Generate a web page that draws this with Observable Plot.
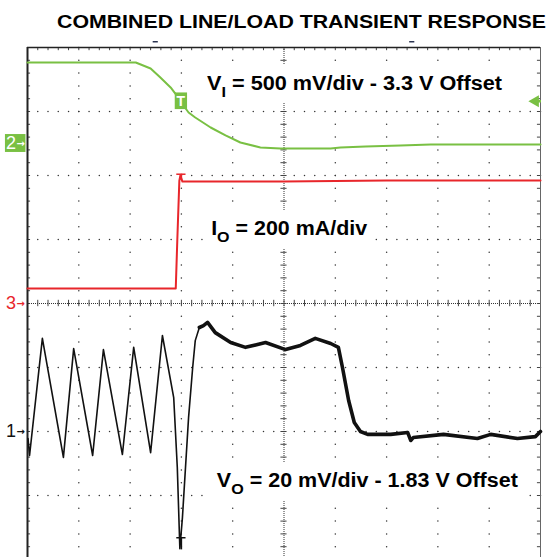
<!DOCTYPE html>
<html><head><meta charset="utf-8">
<script src="https://cdn.jsdelivr.net/npm/d3@7"></script>
<script src="https://cdn.jsdelivr.net/npm/@observablehq/plot@0.6"></script>
<style>
html,body{margin:0;padding:0;background:#fff;}
#chart svg{display:block;}
</style></head><body><div id="chart"></div>
<script>
// ---------- data (time in scope divisions) ----------
const title = "COMBINED LINE/LOAD TRANSIENT RESPONSE";

// Channel 2: input voltage VI (V)
const viTime  = [0, 2.11, 2.40, 2.59, 2.79, 2.94, 3.04, 3.14, 3.27, 3.57, 3.86, 4.15, 4.54, 4.93, 5.32, 5.91, 6.10, 6.59, 7.27, 7.86, 10];
const viVolts = [3.933, 3.933, 3.886, 3.816, 3.738, 3.659, 3.597, 3.542, 3.503, 3.425, 3.363, 3.308, 3.269, 3.261, 3.261, 3.261, 3.269, 3.277, 3.284, 3.292, 3.292];

// Channel 3: output current IO (mA)
const ioTime      = [0, 2.89, 2.92, 2.96, 2.98, 3.02, 5.0, 7.0, 10];
const ioMilliamps = [47, 47, 197, 384, 400, 381, 381, 384, 384];

// Channel 1: output voltage VO (V)
const voTime  = [0.01, 0.04, 0.29, 0.70, 0.90, 1.27, 1.48, 1.85, 2.07, 2.40, 2.63, 2.85, 2.92, 2.97, 3.02, 3.08, 3.14, 3.22, 3.27, 3.35, 3.43, 3.51, 3.66, 3.96, 4.25, 4.64, 5.03, 5.32, 5.61, 5.91, 6.06, 6.14, 6.26, 6.37, 6.49, 6.63, 7.08, 7.41, 7.47, 7.52, 8.11, 8.77, 9.03, 9.55, 9.90, 10.0];
const voVolts = [1.8278, 1.8225, 1.8591, 1.8219, 1.8559, 1.8225, 1.8556, 1.8228, 1.8563, 1.8234, 1.8600, 1.8406, 1.8188, 1.7934, 1.8031, 1.8188, 1.8344, 1.8500, 1.8584, 1.8625, 1.8631, 1.8641, 1.8609, 1.8578, 1.8563, 1.8578, 1.8556, 1.8569, 1.8591, 1.8575, 1.8563, 1.8500, 1.8397, 1.8328, 1.8300, 1.8291, 1.8291, 1.8297, 1.8272, 1.8281, 1.8291, 1.8278, 1.8291, 1.8278, 1.8284, 1.8300];
const voNoisyFrom = 3.35;

// scope settings: channel names, volts(or mA)/div, offsets, ground marker (div)
const chNames   = ["1", "2", "3"];
const chPerDiv  = [0.02, 0.5, 200];
const chOffset  = [1.83, 3.3, 0];
const chGround  = [2, 6.5, 4];

const labelMain = ["V", "I", "V"];
const labelSub  = ["I", "O", "O"];
const labelRest = [" = 500 mV/div - 3.3 V Offset", " = 200 mA/div", " = 20 mV/div - 1.83 V Offset"];
const labelT    = [3.51, 3.59, 3.70];
const labelDiv  = [7.33, 5.06, 1.125];

const triggerTime  = 3.0;
const triggerLevel = 7.16;
const topMarks     = [2.5, 7.5];

// ---------- derived ----------
const toDiv = (ch, v) => chGround[ch] + (v - chOffset[ch]) / chPerDiv[ch];
const viData = viTime.map((t, i) => ({t, d: toDiv(1, viVolts[i])}));
const ioData = ioTime.map((t, i) => ({t, d: toDiv(2, ioMilliamps[i])}));
const voData = voTime.map((t, i) => ({t, d: toDiv(0, voVolts[i])}));
const voNoisy = voData.filter(p => p.t >= voNoisyFrom);

const majorX = d3.range(0, 11), majorY = d3.range(0, 9);
const minorX = d3.range(0, 51).map(i => i / 5), minorY = d3.range(0, 41).map(i => i / 5);
const gridDots = [];
for (const x of majorX) if (x !== 0 && x !== 5 && x !== 10) for (const y of minorY) gridDots.push({x, y});
for (const y of majorY) if (y !== 0 && y !== 4 && y !== 8) for (const x of minorX) gridDots.push({x, y});

const GREEN = "#79c043", RED = "#e8262b", BLACK = "#111";

const plot = Plot.plot({
  width: 548, height: 557,
  marginLeft: 27, marginRight: 8, marginTop: 47, marginBottom: 0,
  x: {domain: [0, 10], range: [27, 540], axis: null},
  y: {domain: [0, 8], range: [559, 47], axis: null},
  style: {background: "#fff", overflow: "visible"},
  marks: [
    Plot.dot(gridDots, {x: "x", y: "y", r: 0.75, fill: "#333"}),
    // centre axes
    Plot.ruleY([4], {stroke: "#333", strokeDasharray: "1,1"}),
    Plot.ruleX([5], {stroke: "#333", strokeDasharray: "1,1"}),
    Plot.ruleX(minorX, {x: d => d, y1: 3.95, y2: 4.05, stroke: "#444"}),
    Plot.ruleY(minorY, {y: d => d, x1: 4.94, x2: 5.06, stroke: "#444"}),
    // border ticks
    Plot.ruleX(minorX, {x: d => d, y1: 8, y2: 7.95, stroke: "#444"}),
    Plot.ruleY(minorY, {y: d => d, x1: 0, x2: 0.06, stroke: "#444"}),
    Plot.ruleY(minorY, {y: d => d, x1: 10, x2: 9.94, stroke: "#444"}),
    // frame
    Plot.ruleX([10], {stroke: "#666", strokeWidth: 1}),
    Plot.ruleY([8], {stroke: "#222", strokeWidth: 1.6}),
    Plot.ruleX([0], {stroke: "#222", strokeWidth: 2}),
    // top markers
    Plot.ruleY(topMarks, {y: 8.09, x1: d => d - 0.05, x2: d => d + 0.05, stroke: "#2a3350", strokeWidth: 1.5}),
    // traces
    Plot.line(viData, {x: "t", y: "d", stroke: GREEN, strokeWidth: 2}),
    Plot.line(ioData, {x: "t", y: "d", stroke: RED, strokeWidth: 2}),
    Plot.line(voData, {x: "t", y: "d", stroke: BLACK, strokeWidth: 1.6}),
    Plot.line(voNoisy, {x: "t", y: "d", stroke: BLACK, strokeWidth: 3.6}),
    // cursors at trigger time
    Plot.ruleY([6.02], {y: d => d, x1: triggerTime - 0.09, x2: triggerTime + 0.09, stroke: RED, strokeWidth: 1.5}),
    Plot.ruleX([triggerTime], {x: d => d, y1: 6.02, y2: 5.92, stroke: RED, strokeWidth: 1.5}),
    Plot.ruleY([0.34], {y: d => d, x1: triggerTime - 0.09, x2: triggerTime + 0.09, stroke: BLACK, strokeWidth: 1.5}),
    Plot.ruleX([triggerTime], {x: d => d, y1: 0.34, y2: 0.15, stroke: BLACK, strokeWidth: 1.5}),
    // trigger box
    Plot.rect([triggerTime], {x1: d => d - 0.12, x2: d => d + 0.12, y1: triggerLevel - 0.13, y2: triggerLevel + 0.13, fill: GREEN}),
    // trigger level arrow (right)
    Plot.ruleY([triggerLevel], {y: d => d, x1: 9.93, x2: 10.02, stroke: GREEN, strokeWidth: 2.5}),
    Plot.dot([triggerLevel], {x: 9.9, y: d => d, symbol: "triangle", rotate: -90, r: 4.5, fill: GREEN}),
    // channel 2 marker box
    Plot.rect([chGround[1]], {x1: -0.43, x2: -0.03, y1: d => d - 0.14, y2: d => d + 0.14, fill: GREEN})
  ]
});
document.getElementById("chart").appendChild(plot);

// texts (real text, positioned through the plot scales)
const xs = plot.scale("x"), ys = plot.scale("y");
const svg = d3.select(plot);
const FONT = "'Liberation Sans', Arial, Helvetica, sans-serif";

// trigger "T"
svg.append("text").attr("x", xs.apply(triggerTime)).attr("y", ys.apply(triggerLevel))
  .attr("text-anchor", "middle").attr("dominant-baseline", "central")
  .style("font-family", FONT).style("font-weight", "bold").style("font-size", "14px").attr("fill", "#fff").text("T");

// channel ground markers: digit + arrow
const markerColors = [BLACK, "#fff", RED];
chNames.forEach((n, i) => {
  const y = ys.apply(chGround[i]);
  svg.append("text").attr("x", 6).attr("y", y)
    .attr("text-anchor", "start").attr("dominant-baseline", "central")
    .style("font-family", FONT).style("font-size", "18px").attr("fill", markerColors[i])
    .text(n);
  svg.append("text").attr("x", 16.5).attr("y", y)
    .attr("text-anchor", "start").attr("dominant-baseline", "central")
    .style("font-family", "'DejaVu Sans', sans-serif").style("font-size", "10px").style("font-weight", "bold")
    .attr("fill", markerColors[i])
    .text("→");
});

const labelWidths = [295, 156, 301];
labelMain.forEach((m, i) => {
  const g = svg.append("g");
  const rect = g.append("rect").attr("fill", "#fff");
  const t = g.append("text")
    .attr("x", xs.apply(labelT[i])).attr("y", ys.apply(labelDiv[i]))
    .attr("text-anchor", "start")
    .style("font-family", FONT).style("font-weight", "bold").style("font-size", "20px")
    .attr("fill", "#000")
    .attr("textLength", labelWidths[i]).attr("lengthAdjust", "spacingAndGlyphs");
  t.append("tspan").text(m);
  t.append("tspan").style("font-size", "15px").attr("dy", 7).text(labelSub[i]);
  t.append("tspan").attr("dy", -7).text(labelRest[i]);
  const b = t.node().getBBox();
  rect.attr("x", b.x - 7).attr("y", b.y - 7).attr("width", b.width + 14).attr("height", b.height + 10);
});
svg.append("text")
  .attr("x", 57).attr("y", 28).attr("text-anchor", "start")
  .style("font-family", FONT).style("font-weight", "bold").style("font-size", "18px")
  .attr("fill", "#000")
  .attr("textLength", 489).attr("lengthAdjust", "spacingAndGlyphs")
  .text(title);
</script>
</body></html>
